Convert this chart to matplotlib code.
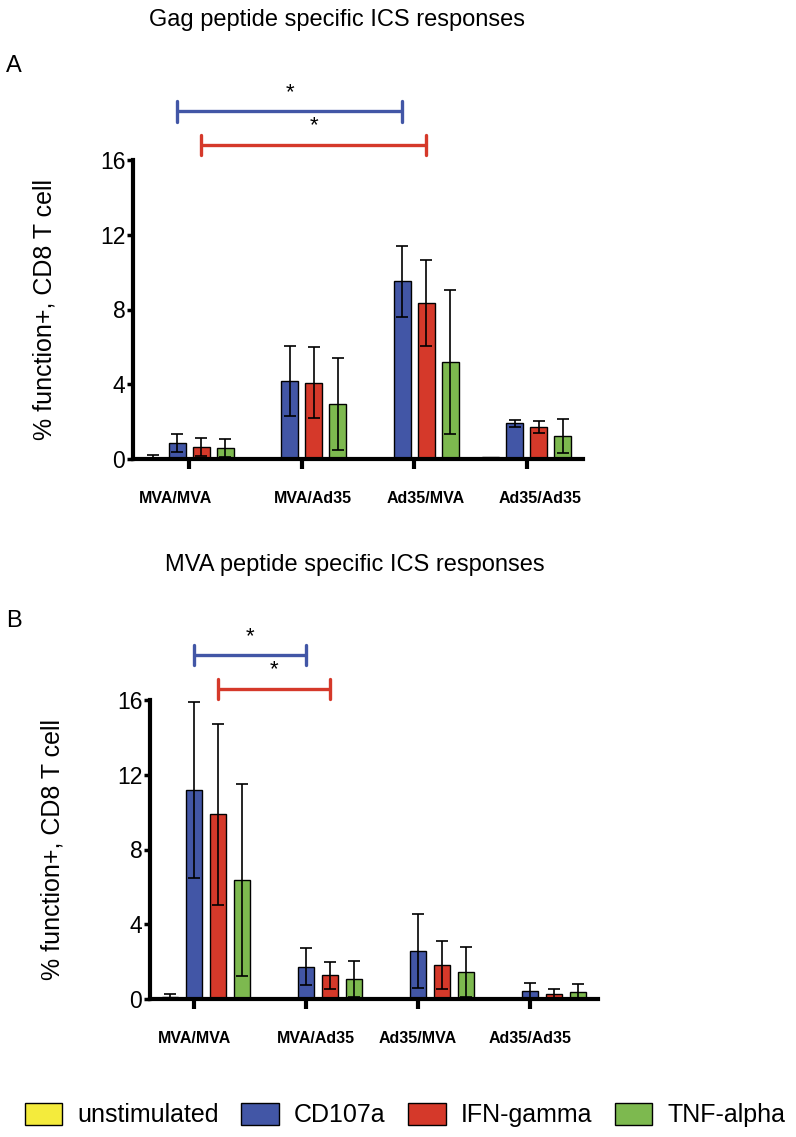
import matplotlib
matplotlib.use('Agg')
import matplotlib.pyplot as plt
from matplotlib.patches import Patch
import numpy as np

plt.rcParams['font.family'] = ['Liberation Sans', 'DejaVu Sans']

groups = ['MVA/MVA', 'MVA/Ad35', 'Ad35/MVA', 'Ad35/Ad35']
stims = ['unstimulated', 'CD107a', 'IFN-gamma', 'TNF-alpha']
colors = ['#F4EB3C', '#4256A6', '#D5392A', '#7DB94F']

# A: Gag peptide, mean and error per group
gag_unstim = [0.08, 0.07, 0.06, 0.09]
gag_unstim_err = [0.13, 0.0, 0.0, 0.0]
gag_cd107a = [0.86, 4.17, 9.50, 1.90]
gag_cd107a_err = [0.48, 1.86, 1.88, 0.20]
gag_ifng = [0.66, 4.08, 8.33, 1.73]
gag_ifng_err = [0.48, 1.90, 2.30, 0.33]
gag_tnfa = [0.59, 2.94, 5.20, 1.23]
gag_tnfa_err = [0.48, 2.47, 3.84, 0.90]

# B: MVA peptide
mva_unstim = [0.10, 0.07, 0.06, 0.08]
mva_unstim_err = [0.15, 0.0, 0.0, 0.0]
mva_cd107a = [11.2, 1.73, 2.57, 0.45]
mva_cd107a_err = [4.70, 0.98, 2.00, 0.39]
mva_ifng = [9.88, 1.27, 1.82, 0.27]
mva_ifng_err = [4.84, 0.73, 1.28, 0.26]
mva_tnfa = [6.37, 1.07, 1.43, 0.39]
mva_tnfa_err = [5.14, 0.94, 1.34, 0.39]

# significance brackets: (stim index, group from, group to, height)
gag_sig = [(1, 0, 2, 18.6), (2, 0, 2, 16.8)]
mva_sig = [(1, 0, 1, 18.4), (2, 0, 1, 16.6)]

W = 796 / 100
H = 1137 / 100
fig = plt.figure(figsize=(W, H), dpi=100)

bar_w = 0.15
step = 0.214
offsets = np.array([-1.5, -0.5, 0.5, 1.5]) * step
x = np.arange(len(groups))


def panel(ax, means, errs, sig, tick_shift, label_shift):
    for k in range(4):
        ax.bar(x + offsets[k], means[k], bar_w, color=colors[k],
               edgecolor='black', linewidth=1.0, zorder=2)
        e = np.array(errs[k])
        m = np.array(means[k])
        keep = e > 0
        ax.errorbar((x + offsets[k])[keep], m[keep], yerr=e[keep], fmt='none',
                    ecolor='black', elinewidth=1.2, capsize=4, capthick=1.2,
                    zorder=3)
    for k, g0, g1, h in sig:
        x0 = g0 + offsets[k]
        x1 = g1 + offsets[k]
        ax.plot([x0, x1], [h, h], color=colors[k], lw=2.4, clip_on=False,
                solid_capstyle='butt')
        for xx in (x0, x1):
            ax.plot([xx, xx], [h - 0.55, h + 0.55], color=colors[k], lw=2.4,
                    clip_on=False, solid_capstyle='round')
        ax.text((x0 + x1) / 2, h + 0.45, '*', ha='center', va='bottom',
                fontsize=16)
    ax.set_xlim(-0.5, 3.5)
    ax.set_ylim(0, 16)
    ax.set_yticks([0, 4, 8, 12, 16])
    ax.set_xticks(x + tick_shift)
    ax.set_xticklabels([])
    for i, g in enumerate(groups):
        ax.text(i + tick_shift + label_shift[i], -2.1, g, ha='center',
                va='center', fontsize=11.5, fontweight='bold')
    ax.spines['top'].set_visible(False)
    ax.spines['right'].set_visible(False)
    for s in ('left', 'bottom'):
        ax.spines[s].set_linewidth(3)
    ax.tick_params(axis='y', direction='out', length=4.5, width=2.5,
                   labelsize=16.5, pad=1)
    ax.tick_params(axis='x', direction='out', length=7, width=3)
    ax.set_ylabel('% function+, CD8 T cell', fontsize=18)


axA = fig.add_axes([133 / 796, 1 - 459 / 1137, 450 / 796, 299 / 1137])
panel(axA, [gag_unstim, gag_cd107a, gag_ifng, gag_tnfa],
      [gag_unstim_err, gag_cd107a_err, gag_ifng_err, gag_tnfa_err],
      gag_sig, 0.0, [-0.12, 0.1, 0.1, 0.12])
axA.yaxis.set_label_coords(-0.17, 0.5)

axB = fig.add_axes([150 / 796, 1 - 999 / 1137, 448 / 796, 299 / 1137])
panel(axB, [mva_unstim, mva_cd107a, mva_ifng, mva_tnfa],
      [mva_unstim_err, mva_cd107a_err, mva_ifng_err, mva_tnfa_err],
      mva_sig, -0.5 * step, [0.0, 0.09, 0.0, 0.0])
axB.yaxis.set_label_coords(-0.19, 0.5)

fig.text(337 / 796, 1 - 20 / 1137, 'Gag peptide specific ICS responses',
         ha='center', va='center', fontsize=17)
fig.text(14 / 796, 1 - 66 / 1137, 'A', ha='center', va='center', fontsize=17)
fig.text(355 / 796, 1 - 565 / 1137, 'MVA peptide specific ICS responses',
         ha='center', va='center', fontsize=17)
fig.text(14 / 796, 1 - 621 / 1137, 'B', ha='center', va='center', fontsize=17)

handles = [Patch(facecolor=c, edgecolor='black', linewidth=1.0) for c in colors]
fig.legend(handles, stims, loc='center', bbox_to_anchor=(405 / 796, 1 - 1115 / 1137),
           ncol=4, frameon=False, fontsize=18, handlelength=1.5,
           handleheight=1.0, handletextpad=0.6, columnspacing=0.9)

fig.savefig('out.png', dpi=100)
